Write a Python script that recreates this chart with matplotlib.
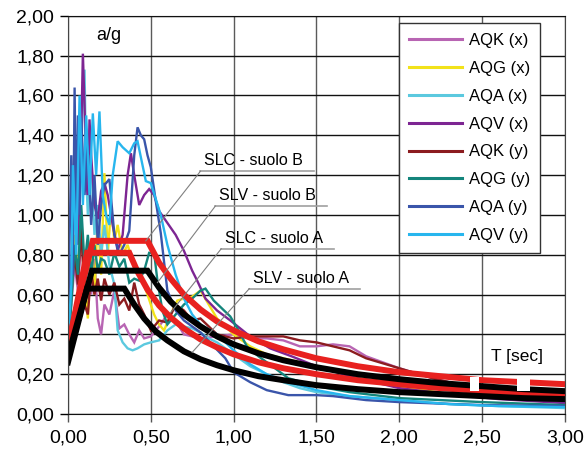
import matplotlib
matplotlib.use("Agg")
import matplotlib.pyplot as plt
from matplotlib.ticker import FuncFormatter

plt.rcParams['font.family'] = ['Liberation Sans', 'DejaVu Sans']

# --- accelerogram response spectra ---
t_aqk_x = [0, 0.02, 0.04, 0.06, 0.08, 0.10, 0.12, 0.14, 0.16, 0.18, 0.20, 0.22, 0.25, 0.28, 0.31,
           0.34, 0.37, 0.40, 0.43, 0.46, 0.50, 0.55, 0.60, 0.65, 0.70, 0.80, 0.90, 1.00, 1.10, 1.20,
           1.30, 1.40, 1.50, 1.60, 1.70, 1.80, 2.00, 2.20, 2.50, 2.75, 3.00]
a_aqk_x = [0.35, 0.55, 0.75, 0.62, 0.90, 0.70, 0.85, 0.60, 0.78, 0.48, 0.40, 0.55, 0.50, 0.62, 0.43,
           0.45, 0.40, 0.36, 0.42, 0.38, 0.39, 0.44, 0.50, 0.47, 0.40, 0.38, 0.39, 0.40, 0.38, 0.38,
           0.37, 0.34, 0.34, 0.35, 0.34, 0.29, 0.23, 0.18, 0.12, 0.085, 0.06]

t_aqg_x = [0, 0.02, 0.04, 0.06, 0.08, 0.10, 0.12, 0.14, 0.16, 0.18, 0.20, 0.22, 0.24, 0.26, 0.28,
           0.30, 0.33, 0.36, 0.40, 0.44, 0.48, 0.52, 0.55, 0.58, 0.62, 0.66, 0.70, 0.75, 0.80, 0.85,
           0.90, 1.00, 1.10, 1.20, 1.30, 1.40, 1.50, 1.70, 2.00, 2.30, 2.60, 3.00]
a_aqg_x = [0.35, 0.60, 0.90, 0.70, 1.00, 0.65, 0.48, 0.85, 0.60, 1.00, 0.70, 1.21, 0.80, 1.04, 0.87,
           0.95, 0.80, 0.85, 0.74, 0.69, 0.60, 0.50, 0.45, 0.42, 0.50, 0.57, 0.58, 0.59, 0.62, 0.55,
           0.48, 0.40, 0.34, 0.30, 0.28, 0.26, 0.24, 0.19, 0.14, 0.10, 0.08, 0.06]

t_aqa_x = [0, 0.02, 0.04, 0.06, 0.08, 0.10, 0.11, 0.12, 0.14, 0.16, 0.18, 0.20, 0.22, 0.25, 0.28,
           0.30, 0.33, 0.36, 0.39, 0.42, 0.46, 0.50, 0.55, 0.60, 0.65, 0.70, 0.75, 0.80, 0.85, 0.90,
           1.00, 1.10, 1.20, 1.30, 1.40, 1.50, 1.70, 2.00, 2.30, 2.60, 3.00]
a_aqa_x = [0.35, 0.70, 1.20, 0.90, 1.40, 1.73, 1.20, 1.00, 1.25, 0.90, 1.05, 0.80, 0.95, 0.75, 0.65,
           0.42, 0.36, 0.33, 0.32, 0.33, 0.35, 0.36, 0.37, 0.42, 0.45, 0.44, 0.43, 0.41, 0.38, 0.36,
           0.30, 0.24, 0.20, 0.16, 0.13, 0.11, 0.09, 0.07, 0.05, 0.04, 0.03]

t_aqv_x = [0, 0.02, 0.04, 0.06, 0.08, 0.09, 0.10, 0.11, 0.12, 0.13, 0.14, 0.16, 0.18, 0.20, 0.22,
           0.24, 0.27, 0.30, 0.33, 0.36, 0.38, 0.40, 0.43, 0.46, 0.49, 0.52, 0.55, 0.60, 0.65, 0.70,
           0.75, 0.78, 0.83, 0.90, 0.98, 1.10, 1.22, 1.35, 1.50, 1.70, 2.00, 2.30, 2.60, 3.00]
a_aqv_x = [0.35, 0.75, 1.10, 0.85, 1.40, 1.81, 1.55, 1.20, 1.10, 1.48, 1.30, 1.05, 0.98, 1.12, 1.16,
           1.10, 0.95, 0.82, 0.90, 1.20, 1.31, 1.20, 1.05, 1.10, 1.13, 1.10, 1.02, 0.96, 0.90, 0.82,
           0.72, 0.67, 0.58, 0.52, 0.47, 0.39, 0.33, 0.29, 0.24, 0.19, 0.13, 0.10, 0.075, 0.055]

t_aqk_y = [0, 0.02, 0.04, 0.06, 0.08, 0.10, 0.12, 0.14, 0.16, 0.18, 0.20, 0.22, 0.25, 0.28, 0.31,
           0.34, 0.37, 0.40, 0.43, 0.46, 0.50, 0.55, 0.60, 0.65, 0.70, 0.75, 0.80, 0.85, 0.90, 1.00,
           1.10, 1.20, 1.30, 1.40, 1.50, 1.60, 1.70, 1.80, 2.00, 2.20, 2.50, 2.75, 3.00]
a_aqk_y = [0.35, 0.60, 0.80, 0.65, 0.95, 0.55, 0.50, 0.72, 0.60, 0.68, 0.57, 0.68, 0.60, 0.66, 0.55,
           0.58, 0.52, 0.66, 0.55, 0.50, 0.42, 0.47, 0.46, 0.55, 0.52, 0.47, 0.48, 0.44, 0.40, 0.38,
           0.39, 0.39, 0.39, 0.37, 0.36, 0.34, 0.32, 0.28, 0.23, 0.18, 0.12, 0.09, 0.07]

t_aqg_y = [0, 0.02, 0.04, 0.06, 0.08, 0.10, 0.12, 0.14, 0.16, 0.18, 0.20, 0.22, 0.25, 0.28, 0.31,
           0.34, 0.37, 0.40, 0.43, 0.46, 0.49, 0.52, 0.54, 0.57, 0.60, 0.65, 0.70, 0.75, 0.80, 0.83,
           0.88, 0.93, 0.98, 1.03, 1.08, 1.15, 1.25, 1.33, 1.50, 1.70, 2.00, 2.50, 3.00]
a_aqg_y = [0.35, 0.55, 0.85, 0.70, 1.05, 0.75, 0.90, 0.70, 0.85, 0.72, 0.78, 0.77, 0.70, 0.81, 0.74,
           0.78, 0.66, 0.68, 0.67, 0.72, 0.81, 0.81, 0.67, 0.52, 0.45, 0.50, 0.55, 0.58, 0.62, 0.63,
           0.57, 0.53, 0.49, 0.42, 0.34, 0.29, 0.23, 0.18, 0.14, 0.11, 0.08, 0.06, 0.045]

t_aqa_y = [0, 0.01, 0.02, 0.03, 0.04, 0.05, 0.06, 0.07, 0.08, 0.10, 0.12, 0.14, 0.16, 0.18, 0.20,
           0.22, 0.25, 0.28, 0.31, 0.34, 0.37, 0.40, 0.42, 0.44, 0.46, 0.48, 0.50, 0.53, 0.56, 0.60,
           0.65, 0.70, 0.75, 0.80, 0.88, 0.95, 1.00, 1.10, 1.20, 1.33, 1.50, 1.60, 1.80, 2.00, 2.50, 3.00]
a_aqa_y = [0.35, 0.90, 1.30, 0.70, 1.64, 0.90, 1.50, 1.00, 1.49, 1.10, 1.35, 0.95, 1.20, 0.85, 1.05,
           1.15, 1.18, 0.90, 0.80, 0.85, 0.92, 1.30, 1.44, 1.40, 1.38, 1.30, 1.24, 1.07, 0.91, 0.62,
           0.52, 0.47, 0.44, 0.41, 0.34, 0.28, 0.21, 0.16, 0.12, 0.095, 0.095, 0.09, 0.07, 0.06, 0.045, 0.04]

t_aqv_y = [0, 0.02, 0.03, 0.05, 0.07, 0.09, 0.11, 0.13, 0.15, 0.17, 0.19, 0.21, 0.23, 0.25, 0.27,
           0.30, 0.33, 0.37, 0.40, 0.42, 0.45, 0.47, 0.50, 0.53, 0.56, 0.60, 0.65, 0.70, 0.75, 0.80,
           0.90, 1.00, 1.10, 1.20, 1.33, 1.50, 1.70, 2.00, 2.30, 2.60, 3.00]
a_aqv_y = [0.35, 0.65, 1.25, 0.80, 1.60, 1.05, 1.50, 1.10, 1.51, 1.20, 1.52, 1.10, 1.00, 0.95, 1.20,
           1.37, 1.34, 1.31, 1.36, 1.37, 1.25, 1.17, 1.16, 1.08, 1.00, 0.85, 0.70, 0.58, 0.50, 0.45,
           0.40, 0.32, 0.25, 0.20, 0.16, 0.12, 0.09, 0.07, 0.05, 0.04, 0.035]

records = [
    ("AQK (x)", t_aqk_x, a_aqk_x, "#b865b3"),
    ("AQG (x)", t_aqg_x, a_aqg_x, "#f2e21a"),
    ("AQA (x)", t_aqa_x, a_aqa_x, "#5bc9df"),
    ("AQV (x)", t_aqv_x, a_aqv_x, "#7d2592"),
    ("AQK (y)", t_aqk_y, a_aqk_y, "#8c1c1f"),
    ("AQG (y)", t_aqg_y, a_aqg_y, "#14857c"),
    ("AQA (y)", t_aqa_y, a_aqa_y, "#3a55aa"),
    ("AQV (y)", t_aqv_y, a_aqv_y, "#27b6ee"),
]

# --- code design spectra ---
t_slc_b = [0, 0.15, 0.48, 0.55, 0.62, 0.70, 0.80, 0.90, 1.00, 1.15, 1.30, 1.50, 1.75, 2.00, 2.25, 2.50, 2.75, 3.00]
a_slc_b = [0.35, 0.87, 0.87, 0.76, 0.68, 0.60, 0.525, 0.465, 0.42, 0.365, 0.325, 0.28, 0.24, 0.21, 0.19, 0.17, 0.16, 0.15]
t_slv_b = [0, 0.115, 0.37, 0.42, 0.48, 0.55, 0.62, 0.70, 0.80, 0.90, 1.00, 1.15, 1.30, 1.50, 1.75, 2.00, 2.25, 2.50, 2.75, 3.00]
a_slv_b = [0.33, 0.81, 0.81, 0.715, 0.625, 0.545, 0.485, 0.43, 0.375, 0.335, 0.30, 0.26, 0.23, 0.20, 0.17, 0.15, 0.13, 0.115, 0.105, 0.095]
t_slc_a = [0, 0.145, 0.48, 0.55, 0.62, 0.70, 0.80, 0.90, 1.00, 1.15, 1.30, 1.50, 1.75, 2.00, 2.25, 2.50, 2.75, 3.00]
a_slc_a = [0.29, 0.72, 0.72, 0.635, 0.565, 0.50, 0.44, 0.39, 0.35, 0.305, 0.27, 0.235, 0.20, 0.175, 0.155, 0.14, 0.125, 0.115]
t_slv_a = [0, 0.115, 0.34, 0.40, 0.46, 0.53, 0.60, 0.70, 0.80, 0.90, 1.00, 1.15, 1.30, 1.50, 1.75, 2.00, 2.25, 2.50, 2.75, 3.00]
a_slv_a = [0.26, 0.63, 0.63, 0.55, 0.48, 0.415, 0.37, 0.315, 0.275, 0.245, 0.22, 0.19, 0.17, 0.145, 0.125, 0.11, 0.10, 0.09, 0.08, 0.075]

# label, text anchor (T, a), leader target (T, a)
labels = [
    ("SLC - suolo B", (0.82, 1.25), (0.47, 0.87)),
    ("SLV - suolo B", (0.91, 1.075), (0.54, 0.66)),
    ("SLC - suolo A", (0.945, 0.86), (0.62, 0.51)),
    ("SLV - suolo A", (1.115, 0.66), (0.75, 0.31)),
]

# white breaks that cut the upper design curves near the right edge
breaks = [(2.43, 2.48), (2.71, 2.79)]

fig = plt.figure(figsize=(5.86, 4.53), dpi=100)
ax = fig.add_axes([0.116, 0.086, 0.848, 0.879])

for name, t, a, c in records:
    ax.plot(t, a, color=c, lw=1.7, label=name, solid_joinstyle="miter")

for t, a in [(t_slv_b, a_slv_b), (t_slc_b, a_slc_b)]:
    ax.plot(t, a, color="#e8211f", lw=4.3, solid_joinstyle="miter")
for t, a in [(t_slv_a, a_slv_a), (t_slc_a, a_slc_a)]:
    ax.plot(t, a, color="black", lw=4.3, solid_joinstyle="miter")

for x0, x1 in breaks:
    ax.fill_between([x0, x1], 0.118, 0.185, color="white", lw=0, zorder=3)

for text, (tx, ty), (px, py) in labels:
    txt = ax.text(tx, ty, text, fontsize=11.5, ha="left", va="baseline", color="black")
    fig.canvas.draw()
    bb = txt.get_window_extent().transformed(ax.transData.inverted())
    uy = ty - 0.03
    ax.plot([tx - 0.02, bb.x1 + 0.01], [uy, uy], color="#a0a0a0", lw=1.2)
    ax.plot([tx - 0.02, px], [uy, py], color="#808080", lw=0.8)

ax.text(0.245, 1.90, "a/g", fontsize=13, ha="center", va="center")
ax.text(2.71, 0.29, "T [sec]", fontsize=12.5, ha="center", va="center")

ax.set_xlim(0, 3)
ax.set_ylim(0, 2)
ax.set_xticks([0, 0.5, 1.0, 1.5, 2.0, 2.5, 3.0])
ax.set_yticks([i * 0.2 for i in range(11)])
fmt = FuncFormatter(lambda v, p: f"{v:.2f}".replace(".", ","))
ax.xaxis.set_major_formatter(fmt)
ax.yaxis.set_major_formatter(fmt)
ax.tick_params(axis="both", labelsize=14, direction="out", length=6, width=1.0)
ax.tick_params(axis="y", pad=4)
ax.tick_params(axis="x", pad=5, colors="#555555", labelcolor="black")

ax.grid(axis="y", color="#111111", lw=1.0)
ax.grid(axis="x", color="#5a5a5a", lw=1.0)
ax.set_axisbelow(True)
for s in ["left", "right"]:
    ax.spines[s].set_color("#444444")
for s in ["top", "bottom"]:
    ax.spines[s].set_color("#111111")

leg = ax.legend(loc="upper left", bbox_to_anchor=(0.666, 0.982), borderaxespad=0,
                fontsize=12, handlelength=3.2, handletextpad=0.4, labelspacing=0.77,
                frameon=True, fancybox=False, borderpad=0.6)
leg.get_frame().set_edgecolor("#333333")
leg.get_frame().set_linewidth(1.0)
leg.get_frame().set_alpha(1)
leg.set_zorder(5)
for ln in leg.get_lines():
    ln.set_linewidth(2.2)

fig.savefig("out.png", dpi=100)
